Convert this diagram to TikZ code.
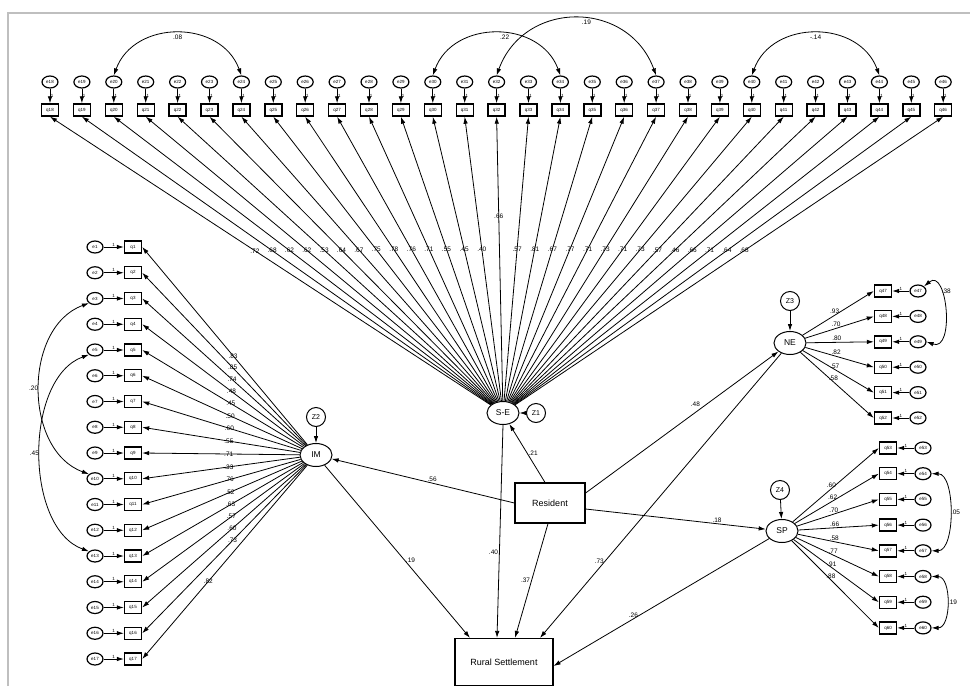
\documentclass[tikz,border=0pt]{standalone}
\usepackage{fontspec}
\setmainfont{Liberation Sans}
\usepackage{tikz}
\usetikzlibrary{shapes.geometric,arrows.meta}

\begin{document}
\begin{tikzpicture}[x=1pt,y=1pt,line width=0.8pt,
  obs/.style={draw,rectangle,line width=1.4pt,minimum width=17pt,minimum height=12pt,inner sep=0pt,font=\fontsize{4.5}{4.5}\selectfont},
  err/.style={draw,ellipse,line width=1.2pt,minimum width=16pt,minimum height=12pt,inner sep=0pt,font=\fontsize{4.5}{4.5}\selectfont},
  lat/.style={draw,ellipse,line width=1pt,minimum width=32pt,minimum height=23pt,inner sep=0pt,font=\fontsize{8.5}{8.5}\selectfont},
  zres/.style={draw,circle,line width=1pt,minimum size=19pt,inner sep=0pt,font=\fontsize{7}{7}\selectfont},
  box/.style={draw,rectangle,line width=1.2pt,inner sep=0pt,font=\fontsize{9}{9}\selectfont},
  arr/.style={-{Latex[length=7pt,width=4.5pt]}},
  cov/.style={{Latex[length=7pt,width=4.5pt]}-{Latex[length=7pt,width=4.5pt]}},
  est/.style={font=\fontsize{6.5}{6.5}\selectfont,inner sep=1pt},
  one/.style={font=\fontsize{4.5}{4.5}\selectfont,inner sep=0.5pt}]
\useasboundingbox (0,0) rectangle (970,-686);
\fill[white] (0,0) rectangle (970,-686);
\draw[gray!50,line width=2pt] (8,-686) -- (8,-13) -- (970,-13);

% latent variables
\node[lat] (se) at (503,-413) {S-E};
\node[lat] (im) at (316,-455) {IM};
\node[lat] (ne) at (790,-343) {NE};
\node[lat] (sp) at (782,-531) {SP};
\node[zres] (z1) at (536,-413) {Z1};
\node[zres] (z2) at (316,-417) {Z2};
\node[zres] (z3) at (790,-301) {Z3};
\node[zres] (z4) at (780,-490) {Z4};
\draw[arr] (z1) -- (se);
\draw[arr] (z2) -- (im);
\draw[arr] (z3) -- (ne);
\draw[arr] (z4) -- (sp);

\node[box,minimum width=70pt,minimum height=40pt] (resid) at (550,-503) {Resident};
\node[box,minimum width=98pt,minimum height=47pt] (rural) at (504,-662) {Rural Settlement};

% top indicators of S-E
\foreach \i in {1,...,29}{
  \pgfmathsetmacro{\xx}{50+(\i-1)*31.9}
  \pgfmathtruncatemacro{\n}{\i+17}
  \node[err] (te\i) at (\xx,-82) {e\n};
  \node[obs] (tb\i) at (\xx,-110) {q\n};
  \draw[arr] (te\i) -- node[one,right]{1} (tb\i);
}
\foreach \i/\v/\p in {1/.72/.535,2/.68/.535,3/.62/.535,4/.62/.535,5/.53/.535,6/.64/.535,7/.67/.535,8/.75/.535,9/.78/.535,10/.76/.535,11/.71/.535,12/.55/.535,13/.45/.535,14/.40/.535,15/.66/.65,16/.57/.535,17/.81/.535,18/.67/.535,19/.77/.535,20/.71/.535,21/.73/.535,22/.71/.535,23/.73/.535,24/.57/.535,25/.46/.535,26/.66/.535,27/.71/.535,28/.64/.535,29/.68/.535}{
  \draw[arr] (se) -- node[est,pos=\p]{\v} (tb\i.south);
}
\draw[cov] (te3.north) to[out=70,in=110,looseness=1.2] node[est,below]{.08} (te7.north);
\draw[cov] (te13.north) to[out=70,in=110,looseness=1.2] node[est,below,xshift=8pt]{.22} (te17.north);
\draw[cov] (te15.north) to[out=70,in=110,looseness=1.3] node[est,below,xshift=10pt]{.19} (te20.north);
\draw[cov] (te23.north) to[out=70,in=110,looseness=1.2] node[est,below]{-.14} (te27.north);

% left indicators of IM
\foreach \j in {1,...,17}{
  \pgfmathsetmacro{\yy}{-247-(\j-1)*25.75}
  \node[obs] (lb\j) at (133,\yy) {q\j};
  \node[err] (le\j) at (95,\yy) {e\j};
  \draw[arr] (le\j) -- node[one,above]{1} (lb\j);
}
\foreach \j/\v/\p in {1/.83/.45,2/.85/.45,3/.74/.45,4/.48/.45,5/.45/.45,6/.50/.45,7/.60/.45,8/.55/.45,9/.71/.45,10/.33/.45,11/.76/.45,12/.52/.45,13/.63/.45,14/.57/.45,15/.60/.45,16/.73/.45,17/.82/.6}{
  \draw[arr] (im) -- node[est,pos=\p]{\v} (lb\j.east);
}
\draw[cov] (le3.south west) to[out=200,in=160,looseness=1.05] node[est,left]{.20} (le10.north west);
\draw[cov] (le5.south west) to[out=200,in=160,looseness=0.9] node[est,left]{.45} (le13.north west);

% right indicators of NE
\foreach \k in {1,...,6}{
  \pgfmathsetmacro{\yy}{-291-(\k-1)*25.4}
  \pgfmathtruncatemacro{\n}{\k+46}
  \node[obs] (nb\k) at (883,\yy) {q\n};
  \node[err] (nee\k) at (918,\yy) {e\n};
  \draw[arr] (nee\k) -- node[one,above]{1} (nb\k);
}
\foreach \k/\v in {1/.93,2/.70,3/.80,4/.82,5/.57,6/.58}{
  \draw[arr] (ne) -- node[est,pos=0.45,above]{\v} (nb\k.west);
}
\draw[cov] (nee1.north east) to[out=40,in=-20,looseness=1.4] node[est,right,pos=0.3]{.38} (nee3.east);

% right indicators of SP
\foreach \k in {1,...,8}{
  \pgfmathsetmacro{\yy}{-448-(\k-1)*25.7}
  \pgfmathtruncatemacro{\n}{\k+52}
  \node[obs] (sb\k) at (888,\yy) {q\n};
  \node[err] (spe\k) at (923,\yy) {e\n};
  \draw[arr] (spe\k) -- node[one,above]{1} (sb\k);
}
\foreach \k/\v in {1/.60,2/.62,3/.70,4/.66,5/.58,6/.77,7/.91,8/.88}{
  \draw[arr] (sp) -- node[est,pos=0.45,above]{\v} (sb\k.west);
}
\draw[cov] (spe2.east) to[out=0,in=0,looseness=0.8] node[est,right]{.05} (spe5.east);
\draw[cov] (spe6.east) to[out=0,in=0,looseness=1] node[est,right]{.19} (spe8.east);

% structural paths
\draw[arr] (resid.west) -- node[est,pos=0.45,above]{.56} (im);
\draw[arr] ([xshift=-5pt]resid.north) -- node[est,right]{.21} (se.-60);
\draw[arr] ([yshift=10pt]resid.east) -- node[est,pos=0.6,above left]{.48} (ne);
\draw[arr] ([yshift=-6pt]resid.east) -- node[est,pos=0.73,above]{.18} (sp);
\draw[arr] ([xshift=-2pt]resid.south) -- node[est,left]{.37} ([xshift=11pt]rural.north);
\draw[arr] (se.south) -- node[est,pos=0.6,left]{.40} ([xshift=-7pt]rural.north);
\draw[arr] (im) -- node[est,pos=0.55,right]{.19} ([xshift=-34pt]rural.north);
\draw[arr] (ne) -- node[est,pos=0.73,left]{.73} ([xshift=36pt]rural.north);
\draw[arr] (sp) -- node[est,pos=0.63,above]{.26} ([yshift=-4pt]rural.east);
\end{tikzpicture}
\end{document}
